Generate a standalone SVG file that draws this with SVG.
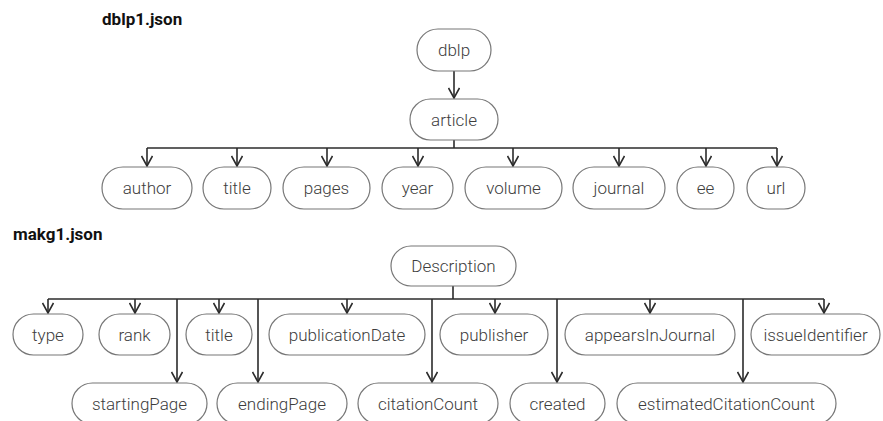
<svg xmlns="http://www.w3.org/2000/svg" width="883" height="421" viewBox="0 0 883 421">
  <style>
    .title { font-family: Roboto, "Liberation Sans", sans-serif; font-weight: 700; font-size: 17px; fill: #111; }
    .node rect { fill: #fff; stroke: #777; stroke-width: 1.2; }
    .node text { font-family: Roboto, "Liberation Sans", sans-serif; font-weight: 300; font-size: 17px; fill: #3d3d3d; text-anchor: middle; }
    .edges path { fill: none; stroke: #2b2b2b; stroke-width: 1.6; }
  </style>
  <defs>
    <marker id="arrow" viewBox="0 0 12 12" refX="11" refY="6" markerWidth="12" markerHeight="12" markerUnits="userSpaceOnUse" orient="auto">
      <path d="M1,0.5 L11,6 L1,11.5" fill="none" stroke="#2b2b2b" stroke-width="1.6"/>
    </marker>
  </defs>
  <rect width="883" height="421" fill="#fff"/>

  <text class="title" x="102" y="25">dblp1.json</text>
  <text class="title" x="13" y="240">makg1.json</text>

  <!-- connectors -->
  <g class="edges">
    <!-- dblp tree -->
    <path d="M454,71 V98" marker-end="url(#arrow)"/>
    <path d="M454,140 V148"/>
    <path d="M147,148 H777"/>
    <path d="M147,148 V166" marker-end="url(#arrow)"/>
    <path d="M237,148 V166" marker-end="url(#arrow)"/>
    <path d="M327,148 V166" marker-end="url(#arrow)"/>
    <path d="M418,148 V166" marker-end="url(#arrow)"/>
    <path d="M513,148 V166" marker-end="url(#arrow)"/>
    <path d="M619,148 V166" marker-end="url(#arrow)"/>
    <path d="M706,148 V166" marker-end="url(#arrow)"/>
    <path d="M777,148 V166" marker-end="url(#arrow)"/>
    <!-- makg tree -->
    <path d="M453,286 V299"/>
    <path d="M48,299 H824"/>
    <path d="M48,299 V313" marker-end="url(#arrow)"/>
    <path d="M135,299 V313" marker-end="url(#arrow)"/>
    <path d="M219,299 V313" marker-end="url(#arrow)"/>
    <path d="M347,299 V313" marker-end="url(#arrow)"/>
    <path d="M495,299 V313" marker-end="url(#arrow)"/>
    <path d="M650,299 V313" marker-end="url(#arrow)"/>
    <path d="M824,299 V313" marker-end="url(#arrow)"/>
    <path d="M177,299 V382" marker-end="url(#arrow)"/>
    <path d="M258,299 V382" marker-end="url(#arrow)"/>
    <path d="M432,299 V382" marker-end="url(#arrow)"/>
    <path d="M557,299 V382" marker-end="url(#arrow)"/>
    <path d="M743,299 V382" marker-end="url(#arrow)"/>
  </g>

  <!-- dblp1.json nodes -->
  <g id="n-dblp" class="node"><rect x="417" y="29" width="74" height="42" rx="21"/><text x="454" y="56">dblp</text></g>
  <g id="n-article" class="node"><rect x="410" y="99" width="88" height="41" rx="20.5"/><text x="454" y="125.5">article</text></g>
  <g id="n-author" class="node"><rect x="102" y="167" width="90" height="42" rx="21"/><text x="147" y="194">author</text></g>
  <g id="n-title" class="node"><rect x="203" y="167" width="68" height="42" rx="21"/><text x="237" y="194">title</text></g>
  <g id="n-pages" class="node"><rect x="283" y="167" width="87" height="42" rx="21"/><text x="326.5" y="194">pages</text></g>
  <g id="n-year" class="node"><rect x="382" y="167" width="71" height="42" rx="21"/><text x="417.5" y="194">year</text></g>
  <g id="n-volume" class="node"><rect x="465" y="167" width="97" height="42" rx="21"/><text x="513.5" y="194">volume</text></g>
  <g id="n-journal" class="node"><rect x="573" y="167" width="92" height="42" rx="21"/><text x="619" y="194">journal</text></g>
  <g id="n-ee" class="node"><rect x="677" y="167" width="57" height="42" rx="21"/><text x="705.5" y="194">ee</text></g>
  <g id="n-url" class="node"><rect x="747" y="167" width="58" height="42" rx="21"/><text x="776" y="194">url</text></g>

  <!-- makg1.json nodes -->
  <g id="n-description" class="node"><rect x="391" y="246" width="125" height="40" rx="20"/><text x="453.5" y="272">Description</text></g>
  <g id="n-type" class="node"><rect x="13" y="314" width="70" height="41" rx="20.5"/><text x="48" y="340.5">type</text></g>
  <g id="n-rank" class="node"><rect x="99" y="314" width="71" height="41" rx="20.5"/><text x="134.5" y="340.5">rank</text></g>
  <g id="n-mtitle" class="node"><rect x="186" y="314" width="66" height="41" rx="20.5"/><text x="219" y="340.5">title</text></g>
  <g id="n-publicationDate" class="node"><rect x="269" y="314" width="156" height="41" rx="20.5"/><text x="347" y="340.5">publicationDate</text></g>
  <g id="n-publisher" class="node"><rect x="440" y="314" width="108" height="41" rx="20.5"/><text x="494" y="340.5">publisher</text></g>
  <g id="n-appearsInJournal" class="node"><rect x="565" y="314" width="170" height="41" rx="20.5"/><text x="650" y="340.5">appearsInJournal</text></g>
  <g id="n-issueIdentifier" class="node"><rect x="751" y="314" width="129" height="41" rx="20.5"/><text x="815.5" y="340.5">issueIdentifier</text></g>
  <g id="n-startingPage" class="node"><rect x="72" y="383" width="135" height="41" rx="20.5"/><text x="139.5" y="409.5">startingPage</text></g>
  <g id="n-endingPage" class="node"><rect x="217" y="383" width="130" height="41" rx="20.5"/><text x="282" y="409.5">endingPage</text></g>
  <g id="n-citationCount" class="node"><rect x="358" y="383" width="140" height="41" rx="20.5"/><text x="428" y="409.5">citationCount</text></g>
  <g id="n-created" class="node"><rect x="510" y="383" width="95" height="41" rx="20.5"/><text x="557.5" y="409.5">created</text></g>
  <g id="n-estimatedCitationCount" class="node"><rect x="617" y="383" width="219" height="41" rx="20.5"/><text x="726.5" y="409.5">estimatedCitationCount</text></g>
</svg>
